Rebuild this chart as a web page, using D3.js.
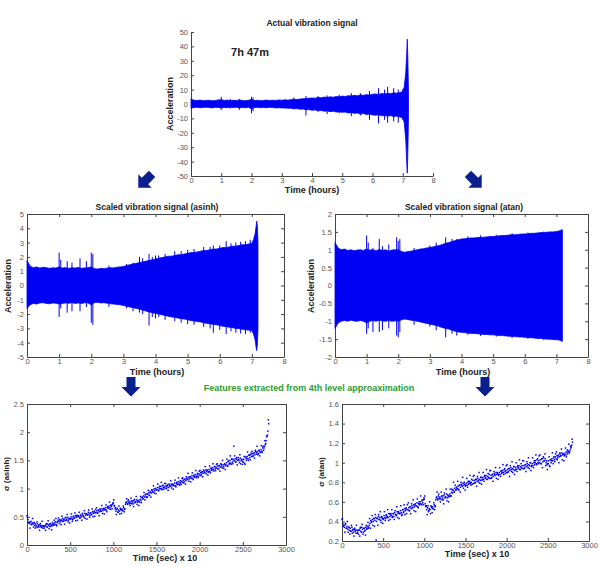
<!DOCTYPE html>
<html>
<head>
<meta charset="utf-8">
<script src="https://cdn.jsdelivr.net/npm/d3@7"></script>
<style>
  body { margin: 0; background: #fff; }
  svg text { font-family: "Liberation Sans", Arial, sans-serif; }
  .tick text { font-size: 7.5px; fill: #555; }
  .tick line, .domain { stroke: #444; }
</style>
</head>
<body>
<script>

// ---- data ----

// time samples (hours) shared by the three signal panels
var hours = [0,0.1,0.2,0.3,0.4,0.5,0.6,0.7,0.8,0.9,
  1.0,1.1,1.2,1.3,1.4,1.5,1.6,1.7,1.8,1.9,
  2.0,2.1,2.2,2.3,2.4,2.5,2.6,2.7,2.8,2.9,
  3.0,3.1,3.2,3.3,3.4,3.5,3.6,3.7,3.8,3.9,
  4.0,4.1,4.2,4.3,4.4,4.5,4.6,4.7,4.8,4.9,
  5.0,5.1,5.2,5.3,5.4,5.5,5.6,5.7,5.8,5.9,
  6.0,6.1,6.2,6.3,6.4,6.5,6.6,6.7,6.8,6.9,
  7.0,7.05,7.1,7.13,7.15,7.17,7.19];

// actual signal envelope
var rawUpper = [3.5,2.6,2.4,2.7,2.3,2.5,2.6,2.2,2.4,2.8,
  3.0,2.5,2.7,2.3,2.6,2.4,2.8,2.5,2.3,2.6,
  3.2,2.4,2.6,2.3,2.5,2.7,2.4,2.6,2.5,2.8,
  2.6,2.9,2.7,3.0,3.3,3.1,3.4,3.6,3.8,4.0,
  4.2,4.0,4.5,4.3,4.8,4.6,5.0,4.7,5.2,5.0,
  5.5,5.2,5.8,5.6,6.0,5.7,6.3,6.0,6.5,6.2,
  6.8,7.0,6.6,7.3,7.0,7.5,7.2,7.8,7.5,8.0,
  8.5,12,22,35,45,30,8];
var rawLower = [-3.0,-2.5,-2.3,-2.6,-2.4,-2.2,-2.5,-2.7,-2.3,-2.4,
  -2.8,-2.4,-2.6,-2.2,-2.5,-2.3,-2.7,-2.4,-2.6,-2.3,
  -3.5,-2.5,-2.3,-2.6,-2.4,-2.6,-2.3,-2.5,-2.7,-2.6,
  -2.7,-2.8,-3.0,-2.9,-3.4,-3.2,-3.6,-3.5,-4.0,-3.9,
  -4.4,-4.1,-4.6,-4.5,-5.0,-4.8,-5.3,-5.0,-5.6,-5.4,
  -5.8,-5.6,-6.2,-6.0,-6.5,-6.3,-7.0,-6.6,-7.3,-7.0,
  -7.6,-7.8,-7.4,-8.2,-7.9,-8.5,-8.0,-8.8,-8.4,-9.0,
  -9.5,-13,-25,-40,-48,-32,-8];
// spikes: [hour, top, bottom]
var rawSpikes = [[1.0,5,-4],[1.3,3.5,-3.2],[1.6,3.5,-4],[2.0,5,-6.5],[2.05,4.5,-5],[3.4,4.5,-3],
  [3.8,5.5,-8],[4.2,5.5,-5.5],[4.5,6,-7],[4.9,6.5,-6.5],[5.3,7.5,-8.5],[5.6,7.5,-8],[5.9,9,-11],
  [6.2,11,-13.5],[6.4,10,-11],[6.5,12,-13],[6.7,11,-12],[6.85,10,-13],[7.0,10.5,-11]];

// asinh scaled envelope
var asinhUpper = [1.75,1.35,1.25,1.30,1.22,1.28,1.25,1.20,1.24,1.22,
  1.30,1.22,1.25,1.20,1.24,1.22,1.26,1.20,1.23,1.25,
  1.30,1.18,1.15,1.20,1.18,1.22,1.25,1.23,1.28,1.30,
  1.32,1.40,1.45,1.50,1.55,1.60,1.65,1.70,1.75,1.80,
  1.85,1.90,1.95,2.00,2.05,2.05,2.10,2.15,2.15,2.20,
  2.25,2.30,2.30,2.35,2.40,2.45,2.45,2.50,2.55,2.55,
  2.60,2.65,2.65,2.70,2.75,2.75,2.80,2.85,2.85,2.90,
  2.95,3.2,3.6,4.1,4.5,4.2,3.0];
var asinhLower = [-1.60,-1.35,-1.25,-1.30,-1.22,-1.20,-1.25,-1.28,-1.22,-1.24,
  -1.30,-1.25,-1.22,-1.24,-1.20,-1.25,-1.22,-1.26,-1.20,-1.22,
  -1.35,-1.20,-1.18,-1.22,-1.20,-1.24,-1.28,-1.30,-1.32,-1.35,
  -1.40,-1.45,-1.50,-1.55,-1.60,-1.65,-1.72,-1.78,-1.85,-1.90,
  -1.95,-2.00,-2.05,-2.10,-2.15,-2.20,-2.22,-2.28,-2.32,-2.35,
  -2.40,-2.45,-2.48,-2.52,-2.55,-2.60,-2.65,-2.68,-2.72,-2.75,
  -2.80,-2.85,-2.88,-2.92,-2.95,-3.00,-3.02,-3.06,-3.10,-3.12,
  -3.15,-3.4,-3.8,-4.3,-4.55,-4.2,-3.0];
var asinhSpikes = [[1.0,2.3,-2.2],[1.05,1.8,-1.6],[1.25,1.7,-1.9],[1.4,1.6,-1.8],[1.65,1.9,-1.8],
  [1.85,1.7,-1.5],[2.0,2.3,-2.6],[2.05,2.2,-2.75],[2.55,1.4,-1.5],[3.1,1.5,-1.6],[3.3,1.6,-1.8],
  [3.5,2.0,-1.9],[3.6,1.9,-2.0],[3.8,2.2,-2.8],[3.9,2.0,-2.2],[4.0,2.1,-2.3],[4.1,2.1,-2.2],
  [4.3,2.2,-2.4],[4.6,2.4,-2.5],[4.8,2.4,-2.6],[5.0,2.5,-2.7],[5.2,2.55,-2.75],[5.5,2.7,-2.9],
  [5.7,2.7,-3.0],[5.8,2.8,-3.3],[6.0,2.8,-3.1],[6.2,3.1,-3.4],[6.35,2.95,-3.2],[6.5,3.0,-3.3],
  [6.65,3.05,-3.35],[6.8,3.1,-3.4],[6.95,3.2,-3.3]];

// atan scaled envelope
var atanUpper = [1.20,1.05,1.00,1.02,0.98,1.00,0.97,0.99,1.00,0.98,
  1.02,0.99,1.00,0.97,1.01,0.98,1.00,0.96,0.99,1.00,
  1.00,0.95,0.93,0.95,0.96,0.98,1.00,1.02,1.03,1.05,
  1.06,1.08,1.10,1.12,1.15,1.18,1.20,1.23,1.26,1.28,
  1.30,1.31,1.32,1.33,1.33,1.34,1.35,1.35,1.36,1.37,
  1.37,1.38,1.39,1.40,1.40,1.41,1.42,1.42,1.43,1.44,
  1.44,1.45,1.46,1.46,1.47,1.48,1.48,1.49,1.50,1.50,
  1.51,1.52,1.53,1.54,1.55,1.56,1.56];
var atanLower = [-1.20,-1.05,-1.00,-0.98,-1.00,-0.97,-0.99,-1.00,-0.98,-1.00,
  -1.05,-1.00,-0.98,-1.00,-0.97,-0.99,-1.00,-0.98,-1.00,-0.99,
  -1.00,-0.96,-0.94,-0.95,-0.97,-0.98,-1.00,-1.02,-1.04,-1.06,
  -1.08,-1.10,-1.12,-1.15,-1.18,-1.20,-1.22,-1.25,-1.28,-1.30,
  -1.31,-1.32,-1.33,-1.34,-1.34,-1.35,-1.36,-1.37,-1.37,-1.38,
  -1.38,-1.39,-1.40,-1.40,-1.41,-1.42,-1.42,-1.43,-1.44,-1.44,
  -1.45,-1.46,-1.46,-1.47,-1.48,-1.48,-1.49,-1.50,-1.50,-1.51,
  -1.52,-1.52,-1.53,-1.54,-1.55,-1.56,-1.56];
var atanSpikes = [[1.0,1.4,-1.35],[1.05,1.2,-1.2],[1.2,1.05,-1.3],[1.4,1.3,-1.3],[1.5,1.1,-1.25],
  [1.7,1.15,-1.2],[1.95,1.35,-1.4],[2.0,1.25,-1.45],[2.05,1.3,-1.3],[2.5,1.05,-1.1],
  [3.0,1.12,-1.15],[3.2,1.2,-1.25],[3.5,1.35,-1.45],[3.7,1.3,-1.35],[3.85,1.3,-1.4],
  [4.2,1.37,-1.38],[4.6,1.4,-1.41],[5.1,1.42,-1.43],[5.6,1.46,-1.47],[6.1,1.48,-1.49],[6.6,1.51,-1.52]];

// 4th level approximation features, one value every 10 (time in sec x 10, 0..2800)
var sigmaAsinh = [0.52,0.45,0.40,0.38,0.41,0.36,0.39,0.37,0.40,0.35,
  0.37,0.34,0.38,0.33,0.36,0.32,0.35,0.31,0.34,0.33,
  0.30,0.34,0.36,0.32,0.37,0.35,0.33,0.38,0.36,0.34,
  0.37,0.35,0.39,0.41,0.36,0.40,0.44,0.42,0.45,0.41,
  0.44,0.47,0.42,0.46,0.43,0.48,0.45,0.49,0.44,0.47,
  0.46,0.50,0.47,0.45,0.51,0.48,0.52,0.49,0.53,0.50,
  0.51,0.48,0.53,0.50,0.55,0.52,0.49,0.56,0.53,0.55,
  0.54,0.58,0.55,0.52,0.57,0.54,0.59,0.56,0.60,0.57,
  0.58,0.61,0.57,0.62,0.59,0.63,0.60,0.64,0.61,0.65,
  0.63,0.66,0.62,0.67,0.65,0.69,0.66,0.70,0.68,0.72,
  0.75,0.70,0.64,0.60,0.63,0.58,0.62,0.60,0.65,0.62,
  0.64,0.61,0.66,0.63,0.72,0.76,0.74,0.78,0.75,0.77,
  0.74,0.78,0.76,0.73,0.79,0.75,0.77,0.80,0.76,0.78,
  0.77,0.81,0.79,0.84,0.82,0.87,0.85,0.89,0.86,0.91,
  0.90,0.93,0.88,0.95,0.92,0.97,0.94,0.99,0.96,1.00,
  0.98,1.02,0.97,1.01,0.99,1.04,1.00,1.05,1.02,1.03,
  1.01,1.05,1.03,1.07,1.02,1.06,1.04,1.08,1.05,1.07,
  1.06,1.10,1.05,1.09,1.07,1.12,1.08,1.11,1.09,1.13,
  1.11,1.15,1.12,1.17,1.14,1.18,1.16,1.20,1.17,1.21,
  1.19,1.23,1.18,1.22,1.20,1.25,1.21,1.24,1.22,1.26,
  1.24,1.28,1.25,1.30,1.27,1.31,1.28,1.33,1.30,1.32,
  1.29,1.34,1.31,1.36,1.33,1.37,1.34,1.39,1.35,1.38,
  1.36,1.40,1.35,1.41,1.38,1.43,1.37,1.42,1.39,1.44,
  1.41,1.46,1.40,1.48,1.43,1.50,1.45,1.52,1.47,1.51,
  1.49,1.53,1.47,1.55,1.50,1.52,1.46,1.54,1.49,1.51,
  1.48,1.52,1.45,1.55,1.50,1.57,1.53,1.59,1.55,1.60,
  1.57,1.62,1.58,1.64,1.60,1.66,1.61,1.65,1.62,1.67,
  1.64,1.69,1.66,1.72,1.68,1.75,1.78,1.85,1.92,2.02,
  2.15];
// second pass through the same band, read half a step later (5, 15, ... 2795)
var sigmaAsinhB = [0.49,0.40,0.40,0.30,0.42,0.37,0.47,0.32,0.39,0.30,
  0.32,0.41,0.31,0.35,0.26,0.38,0.33,0.42,0.30,0.34,
  0.34,0.26,0.38,0.32,0.43,0.29,0.37,0.33,0.27,0.40,
  0.37,0.44,0.36,0.47,0.34,0.41,0.48,0.38,0.44,0.36,
  0.51,0.42,0.45,0.37,0.49,0.44,0.54,0.41,0.47,0.39,
  0.46,0.55,0.42,0.50,0.47,0.57,0.43,0.51,0.44,0.52,
  0.58,0.48,0.52,0.44,0.56,0.51,0.61,0.47,0.55,0.46,
  0.53,0.62,0.49,0.57,0.54,0.64,0.50,0.58,0.51,0.63,
  0.66,0.56,0.61,0.52,0.64,0.60,0.70,0.56,0.64,0.55,
  0.62,0.71,0.59,0.68,0.65,0.76,0.63,0.71,0.64,0.74,
  0.80,0.69,0.66,0.54,0.65,0.58,0.69,0.55,0.63,0.56,
  0.61,0.69,0.59,0.64,0.75,0.82,0.72,0.80,0.73,0.70,
  0.83,0.73,0.78,0.68,0.81,0.76,0.86,0.72,0.79,0.70,
  0.76,0.86,0.75,0.85,0.82,0.93,0.80,0.90,0.84,0.85,
  0.97,0.88,0.93,0.85,0.98,0.94,1.05,0.92,1.00,0.91,
  0.98,1.08,0.96,1.04,1.00,1.11,0.98,1.06,0.99,1.09,
  1.09,1.00,1.05,0.97,1.08,1.04,1.14,1.01,1.08,0.99,
  1.05,1.15,1.03,1.11,1.08,1.19,1.06,1.14,1.07,1.18,
  1.19,1.10,1.16,1.08,1.21,1.17,1.27,1.13,1.21,1.12,
  1.18,1.28,1.16,1.24,1.21,1.32,1.19,1.27,1.20,1.31,
  1.32,1.23,1.29,1.21,1.33,1.29,1.39,1.26,1.33,1.24,
  1.30,1.40,1.28,1.36,1.33,1.44,1.31,1.39,1.32,1.43,
  1.44,1.35,1.40,1.31,1.44,1.40,1.50,1.36,1.43,1.34,
  1.42,1.52,1.40,1.49,1.45,1.58,1.43,1.53,1.44,1.75,
  1.58,1.48,1.52,1.42,1.55,1.50,1.60,1.44,1.52,1.43,
  1.47,1.57,1.43,1.56,1.53,1.65,1.50,1.60,1.51,1.63,
  1.66,1.57,1.62,1.54,1.68,1.64,1.75,1.60,1.68,1.58,
  1.65,1.76,1.64,1.75,1.72,1.85,1.80,1.93,1.95,2.22];

var sigmaAtan = [0.42,0.38,0.36,0.34,0.37,0.33,0.35,0.32,0.34,0.31,
  0.33,0.30,0.34,0.31,0.29,0.32,0.30,0.28,0.31,0.29,
  0.27,0.31,0.33,0.30,0.34,0.32,0.29,0.33,0.31,0.34,
  0.32,0.35,0.33,0.36,0.38,0.41,0.39,0.42,0.40,0.43,
  0.41,0.44,0.40,0.43,0.45,0.42,0.44,0.41,0.45,0.43,
  0.42,0.46,0.44,0.43,0.47,0.45,0.44,0.48,0.45,0.47,
  0.46,0.44,0.48,0.45,0.49,0.47,0.46,0.50,0.48,0.49,
  0.48,0.51,0.49,0.47,0.52,0.50,0.53,0.51,0.54,0.52,
  0.52,0.54,0.51,0.55,0.53,0.56,0.54,0.57,0.55,0.58,
  0.56,0.59,0.55,0.58,0.57,0.60,0.58,0.61,0.59,0.62,
  0.63,0.58,0.55,0.52,0.54,0.50,0.53,0.52,0.56,0.54,
  0.55,0.53,0.57,0.55,0.62,0.65,0.63,0.66,0.64,0.65,
  0.63,0.66,0.64,0.62,0.67,0.64,0.65,0.68,0.64,0.66,
  0.65,0.68,0.66,0.70,0.69,0.72,0.70,0.74,0.72,0.75,
  0.73,0.76,0.72,0.77,0.75,0.78,0.76,0.79,0.77,0.78,
  0.76,0.79,0.77,0.80,0.78,0.81,0.79,0.80,0.78,0.82,
  0.79,0.82,0.80,0.83,0.81,0.84,0.80,0.83,0.82,0.85,
  0.82,0.85,0.83,0.86,0.84,0.87,0.83,0.86,0.85,0.88,
  0.84,0.87,0.85,0.88,0.86,0.89,0.87,0.90,0.88,0.89,
  0.87,0.90,0.88,0.91,0.89,0.92,0.90,0.93,0.91,0.92,
  0.90,0.93,0.91,0.94,0.92,0.95,0.91,0.94,0.93,0.96,
  0.92,0.95,0.93,0.96,0.94,0.97,0.93,0.96,0.95,0.97,
  0.94,0.97,0.95,0.98,0.96,0.99,0.95,0.98,0.97,1.00,
  0.96,0.99,0.97,1.00,0.98,1.02,0.99,1.03,1.00,1.02,
  1.00,1.03,0.99,1.04,1.01,1.05,1.02,1.04,1.00,0.98,
  0.99,1.02,0.97,1.03,1.00,1.04,1.02,1.05,1.03,1.06,
  1.04,1.07,1.05,1.08,1.06,1.09,1.07,1.10,1.08,1.09,
  1.07,1.10,1.08,1.11,1.09,1.12,1.10,1.13,1.15,1.18,
  1.21];
var sigmaAtanB = [0.43,0.35,0.36,0.29,0.38,0.33,0.40,0.29,0.34,0.27,
  0.30,0.36,0.28,0.32,0.25,0.33,0.31,0.36,0.28,0.31,
  0.31,0.25,0.34,0.29,0.37,0.27,0.33,0.30,0.26,0.36,
  0.33,0.39,0.34,0.43,0.33,0.40,0.46,0.36,0.43,0.35,
  0.47,0.21,0.43,0.36,0.47,0.42,0.50,0.39,0.44,0.38,
  0.43,0.50,0.41,0.46,0.44,0.52,0.41,0.48,0.42,0.48,
  0.52,0.45,0.48,0.42,0.51,0.47,0.55,0.44,0.50,0.43,
  0.48,0.56,0.46,0.52,0.49,0.57,0.47,0.53,0.48,0.57,
  0.59,0.51,0.55,0.48,0.58,0.54,0.62,0.51,0.57,0.50,
  0.56,0.63,0.54,0.60,0.58,0.66,0.57,0.62,0.57,0.64,
  0.66,0.56,0.56,0.47,0.56,0.51,0.60,0.48,0.55,0.49,
  0.53,0.59,0.52,0.56,0.64,0.70,0.62,0.68,0.63,0.60,
  0.70,0.62,0.66,0.58,0.69,0.65,0.73,0.61,0.67,0.60,
  0.66,0.73,0.66,0.73,0.72,0.80,0.70,0.77,0.72,0.74,
  0.81,0.73,0.77,0.70,0.80,0.77,0.85,0.74,0.80,0.72,
  0.77,0.84,0.75,0.81,0.79,0.87,0.77,0.83,0.78,0.86,
  0.87,0.79,0.83,0.76,0.86,0.82,0.90,0.79,0.85,0.78,
  0.83,0.90,0.81,0.87,0.85,0.93,0.83,0.89,0.84,0.92,
  0.92,0.84,0.88,0.81,0.91,0.88,0.95,0.84,0.90,0.83,
  0.88,0.95,0.86,0.92,0.90,0.98,0.88,0.94,0.89,0.97,
  0.98,0.90,0.94,0.86,0.97,0.93,1.01,0.90,0.96,0.88,
  0.93,1.00,0.91,0.97,0.95,1.03,0.93,0.99,0.94,1.02,
  1.02,0.94,0.98,0.91,1.01,0.97,1.05,0.94,1.00,0.92,
  0.97,1.05,0.95,1.02,1.00,1.08,0.98,1.04,0.99,1.07,
  1.08,0.99,1.04,0.95,1.06,1.02,1.09,0.97,1.02,0.93,
  0.99,1.06,0.96,1.03,1.02,1.10,0.99,1.06,1.01,1.09,
  1.11,1.03,1.07,1.00,1.10,1.07,1.14,1.03,1.09,1.02,
  1.08,1.15,1.06,1.13,1.11,1.19,1.11,1.17,1.16,1.24];

// tick values
var hourTicks = [0,1,2,3,4,5,6,7,8];
var rawTicks = [-50,-40,-30,-20,-10,0,10,20,30,40,50];
var asinhTicks = [-5,-4,-3,-2,-1,0,1,2,3,4,5];
var atanTicks = [-2,-1.5,-1,-0.5,0,0.5,1,1.5,2];
var secTicks = [0,500,1000,1500,2000,2500,3000];
var sigAsinhTicks = [0,0.5,1,1.5,2,2.5];
var sigAtanTicks = [0.2,0.4,0.6,0.8,1,1.2,1.4,1.6];

const blue = "#0000f5";
const navy = "#0b1f8f";

const svg = d3.select("body").append("svg")
    .attr("width", 600)
    .attr("height", 567);

function makeAxes(box, xdom, ydom, xticks, yticks, full){
    const x = d3.scaleLinear(xdom, [box.left, box.right]);
    const y = d3.scaleLinear(ydom, [box.bottom, box.top]);
    const fmt = d => String(d);

    svg.append("g")
        .attr("transform", `translate(0,${box.bottom})`)
        .call(d3.axisBottom(x).tickValues(xticks).tickFormat(fmt).tickSizeInner(-3).tickSizeOuter(0).tickPadding(2));
    svg.append("g")
        .attr("transform", `translate(${box.left},0)`)
        .call(d3.axisLeft(y).tickValues(yticks).tickFormat(fmt).tickSizeInner(-3).tickSizeOuter(0).tickPadding(3));

    if (full){
        svg.append("g")
            .attr("transform", `translate(0,${box.top})`)
            .call(d3.axisTop(x).tickValues(xticks).tickSizeInner(-3).tickSizeOuter(0).tickFormat(""));
        svg.append("g")
            .attr("transform", `translate(${box.right},0)`)
            .call(d3.axisRight(y).tickValues(yticks).tickSizeInner(-3).tickSizeOuter(0).tickFormat(""));
    }
    return {x: x, y: y};
}

function addText(x, y, txt, size, rotate, color){
    const t = svg.append("text")
        .attr("text-anchor", "middle")
        .attr("font-weight", "bold")
        .attr("font-size", size + "px")
        .attr("fill", color || "#222")
        .text(txt);
    if (rotate){
        t.attr("transform", `translate(${x},${y}) rotate(-90)`).attr("dy", "0.35em");
    } else {
        t.attr("x", x).attr("y", y).attr("dy", "0.35em");
    }
    return t;
}

function drawSignal(sc, upper, lower, spikes){
    const pts = hours.map((h, i) => ({h: h, hi: upper[i], lo: lower[i]}));
    const area = d3.area()
        .x(d => sc.x(d.h))
        .y0(d => sc.y(d.lo))
        .y1(d => sc.y(d.hi));
    svg.append("path")
        .attr("d", area(pts))
        .attr("fill", blue)
        .attr("stroke", blue)
        .attr("stroke-width", 0.8);

    svg.append("g")
        .attr("stroke", blue)
        .attr("stroke-width", 1)
        .selectAll("line")
        .data(spikes)
        .join("line")
        .attr("x1", d => sc.x(d[0]))
        .attr("x2", d => sc.x(d[0]))
        .attr("y1", d => sc.y(d[1]))
        .attr("y2", d => sc.y(d[2]));
}

function drawDots(sc, values, offset){
    svg.append("g")
        .attr("fill", blue)
        .selectAll("rect")
        .data(values)
        .join("rect")
        .attr("x", (d, i) => sc.x(i * 10 + offset) - 0.75)
        .attr("y", d => sc.y(d) - 0.75)
        .attr("width", 1.5)
        .attr("height", 1.5);
}

// block arrow pointing down, centred on (0,0)
function drawArrow(cx, cy, angle){
    const shape = [[-4.5,-10],[4.5,-10],[4.5,0],[9.5,0],[0,9.5],[-9.5,0],[-4.5,0]];
    svg.append("path")
        .attr("d", d3.line()(shape) + "Z")
        .attr("fill", navy)
        .attr("transform", `translate(${cx},${cy}) rotate(${angle})`);
}

// --- actual vibration signal ---
var s1 = makeAxes({left: 191, right: 433, top: 32, bottom: 176}, [0, 8], [-50, 50], hourTicks, rawTicks, false);
drawSignal(s1, rawUpper, rawLower, rawSpikes);
addText(312, 23, "Actual vibration signal", 8.5);
addText(312, 190, "Time (hours)", 9);
addText(170, 104, "Acceleration", 9, true);
addText(250, 52, "7h 47m", 11);

// --- scaled asinh ---
var s2 = makeAxes({left: 27, right: 284, top: 214, bottom: 357}, [0, 8], [-5, 5], hourTicks, asinhTicks, true);
drawSignal(s2, asinhUpper, asinhLower, asinhSpikes);
addText(157, 207, "Scaled vibration signal (asinh)", 8.5);
addText(157, 372, "Time (hours)", 9);
addText(8, 286, "Acceleration", 9, true);

// --- scaled atan ---
var s3 = makeAxes({left: 335, right: 588, top: 214, bottom: 357}, [0, 8], [-2, 2], hourTicks, atanTicks, true);
drawSignal(s3, atanUpper, atanLower, atanSpikes);
addText(464, 207, "Scaled vibration signal (atan)", 8.5);
addText(463, 372, "Time (hours)", 9);
addText(311, 286, "Acceleration", 9, true);

// --- features ---
var s4 = makeAxes({left: 27, right: 286, top: 404, bottom: 545}, [0, 3000], [0, 2.5], secTicks, sigAsinhTicks, true);
drawDots(s4, sigmaAsinh, 0);
drawDots(s4, sigmaAsinhB, 5);
addText(165, 558, "Time (sec) x 10", 9);
addText(6, 474, "σ (asinh)", 8, true);

var s5 = makeAxes({left: 342, right: 589, top: 404, bottom: 541}, [0, 3000], [0.2, 1.6], secTicks, sigAtanTicks, true);
drawDots(s5, sigmaAtan, 0);
drawDots(s5, sigmaAtanB, 5);
addText(477, 554, "Time (sec) x 10", 9);
addText(321, 472, "σ (atan)", 8, true);

addText(309, 388, "Features extracted from 4th level approaximation", 9, false, "#2e9a2e")
    .attr("font-family", "Lato, 'Open Sans', sans-serif");

// arrows
drawArrow(145, 181, 45);
drawArrow(475, 181, -45);
drawArrow(131, 387, 0);
drawArrow(485, 387, 0);

</script>
</body>
</html>
